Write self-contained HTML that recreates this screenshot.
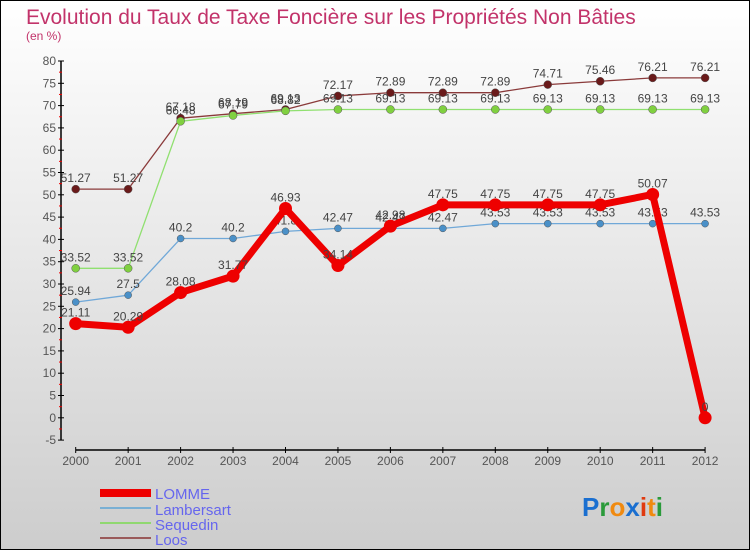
<!DOCTYPE html>
<html><head><meta charset="utf-8"><style>
body{margin:0;width:750px;height:550px;overflow:hidden;font-family:"Liberation Sans",sans-serif}
svg{display:block}
</style></head><body>
<svg id="c" width="750" height="550" xmlns="http://www.w3.org/2000/svg">
<defs><linearGradient id="bg" x1="0" y1="0" x2="0" y2="1"><stop offset="0" stop-color="#ffffff"/><stop offset="1" stop-color="#cdcdcd"/></linearGradient></defs>
<rect x="0.5" y="0.5" width="749" height="549" fill="url(#bg)" stroke="#000"/>
<text x="26" y="24" font-size="21" fill="#c2336a">Evolution du Taux de Taxe Foncière sur les Propriétés Non Bâties</text>
<text x="26" y="40" font-size="12" fill="#c2336a">(en %)</text>
<g id="axes"></g><g id="series"></g>
<g>
<rect x="100" y="489" width="51" height="8" fill="#e00"/>
<text x="155" y="499" font-size="15" fill="#6666ee">LOMME</text>
<rect x="100" y="507" width="51" height="2" fill="#7ab0d4"/>
<text x="155" y="515" font-size="15" fill="#6666ee">Lambersart</text>
<rect x="100" y="522" width="51" height="2" fill="#90d870"/>
<text x="155" y="530" font-size="15" fill="#6666ee">Sequedin</text>
<rect x="100" y="537" width="51" height="2" fill="#9a5a5a"/>
<text x="155" y="545" font-size="15" fill="#6666ee">Loos</text>
</g>
<text x="582" y="516" font-size="26" font-weight="bold"><tspan fill="#1a6fd0">P</tspan><tspan fill="#2a9a3a">r</tspan><tspan fill="#f08a10">o</tspan><tspan fill="#1a6fd0">x</tspan><tspan fill="#e03a10">i</tspan><tspan fill="#f08a10">t</tspan><tspan fill="#2a9a3a">i</tspan></text>
</svg>
<script>
const years=[2000,2001,2002,2003,2004,2005,2006,2007,2008,2009,2010,2011,2012];
const yTicks=[-5,0,5,10,15,20,25,30,35,40,45,50,55,60,65,70,75,80];
const lomme=[21.11,20.29,28.08,31.77,46.93,34.14,42.98,47.75,47.75,47.75,47.75,50.07,0];
const lambersart=[25.94,27.5,40.2,40.2,41.8,42.47,42.47,42.47,43.53,43.53,43.53,43.53,43.53];
const sequedin=[33.52,33.52,66.48,67.79,68.82,69.13,69.13,69.13,69.13,69.13,69.13,69.13,69.13];
const loos=[51.27,51.27,67.18,68.19,69.13,72.17,72.89,72.89,72.89,74.71,75.46,76.21,76.21];
const NS="http://www.w3.org/2000/svg";
const xS=i=>75.7+i*52.45;
const yS=v=>417.8-v*4.46;
function mk(t,a,p){const e=document.createElementNS(NS,t);for(const k in a)e.setAttribute(k,a[k]);p.appendChild(e);return e;}
const ax=document.getElementById('axes');
let yl=mk('line',{x1:61,y1:yS(80),x2:61,y2:yS(-5),stroke:'#000','stroke-width':1.5},ax);


yTicks.forEach((v,k)=>{
 mk('line',{x1:58,y1:yS(v),x2:64,y2:yS(v),stroke:'#000'},ax);
 if(k<yTicks.length-1) mk('line',{x1:59,y1:yS(v+2.5),x2:62,y2:yS(v+2.5),stroke:'#e00'},ax);
 const t=mk('text',{x:56,y:yS(v)+4,'font-size':12,fill:'#555','text-anchor':'end'},ax);t.textContent=v;
 
 
});
let xl=mk('line',{x1:xS(0),y1:450,x2:xS(12),y2:450,stroke:'#000','stroke-width':1.5},ax);


years.forEach((y,i)=>{
 mk('line',{x1:xS(i),y1:447,x2:xS(i),y2:453,stroke:'#000'},ax);
 const t=mk('text',{x:xS(i),y:465,'font-size':12,fill:'#555','text-anchor':'middle'},ax);t.textContent=y;
 
 
});
const sg=document.getElementById('series');
function draw(d,name,col,w,r,fill){
 const g=mk('g',{},sg);
 
 
 const l=mk('polyline',{points:d.map((v,i)=>xS(i)+','+yS(v)).join(' '),fill:'none',stroke:col,'stroke-width':w,'stroke-linejoin':'round'},g);
 
 
 d.forEach((v,i)=>{
  const c=mk('circle',{cx:xS(i),cy:yS(v),r:r,fill:fill,stroke:col==='#e00'?'none':'#555','stroke-width':0.5},g);
  
  
  const t=mk('text',{x:xS(i),y:yS(v)-7,'font-size':12,fill:'#444','text-anchor':'middle'},g);t.textContent=v;
  
  
 });
}
draw(loos,'loos','#8a3a3a',1.3,4,'#6a1a1a');
draw(sequedin,'sequedin','#90e070',1.3,4,'#80d040');
draw(lambersart,'lambersart','#70a8d8',1.3,3.5,'#4a90c8');
draw(lomme,'lomme','#e00',7,6.5,'#e00');
</script>
</body></html>
